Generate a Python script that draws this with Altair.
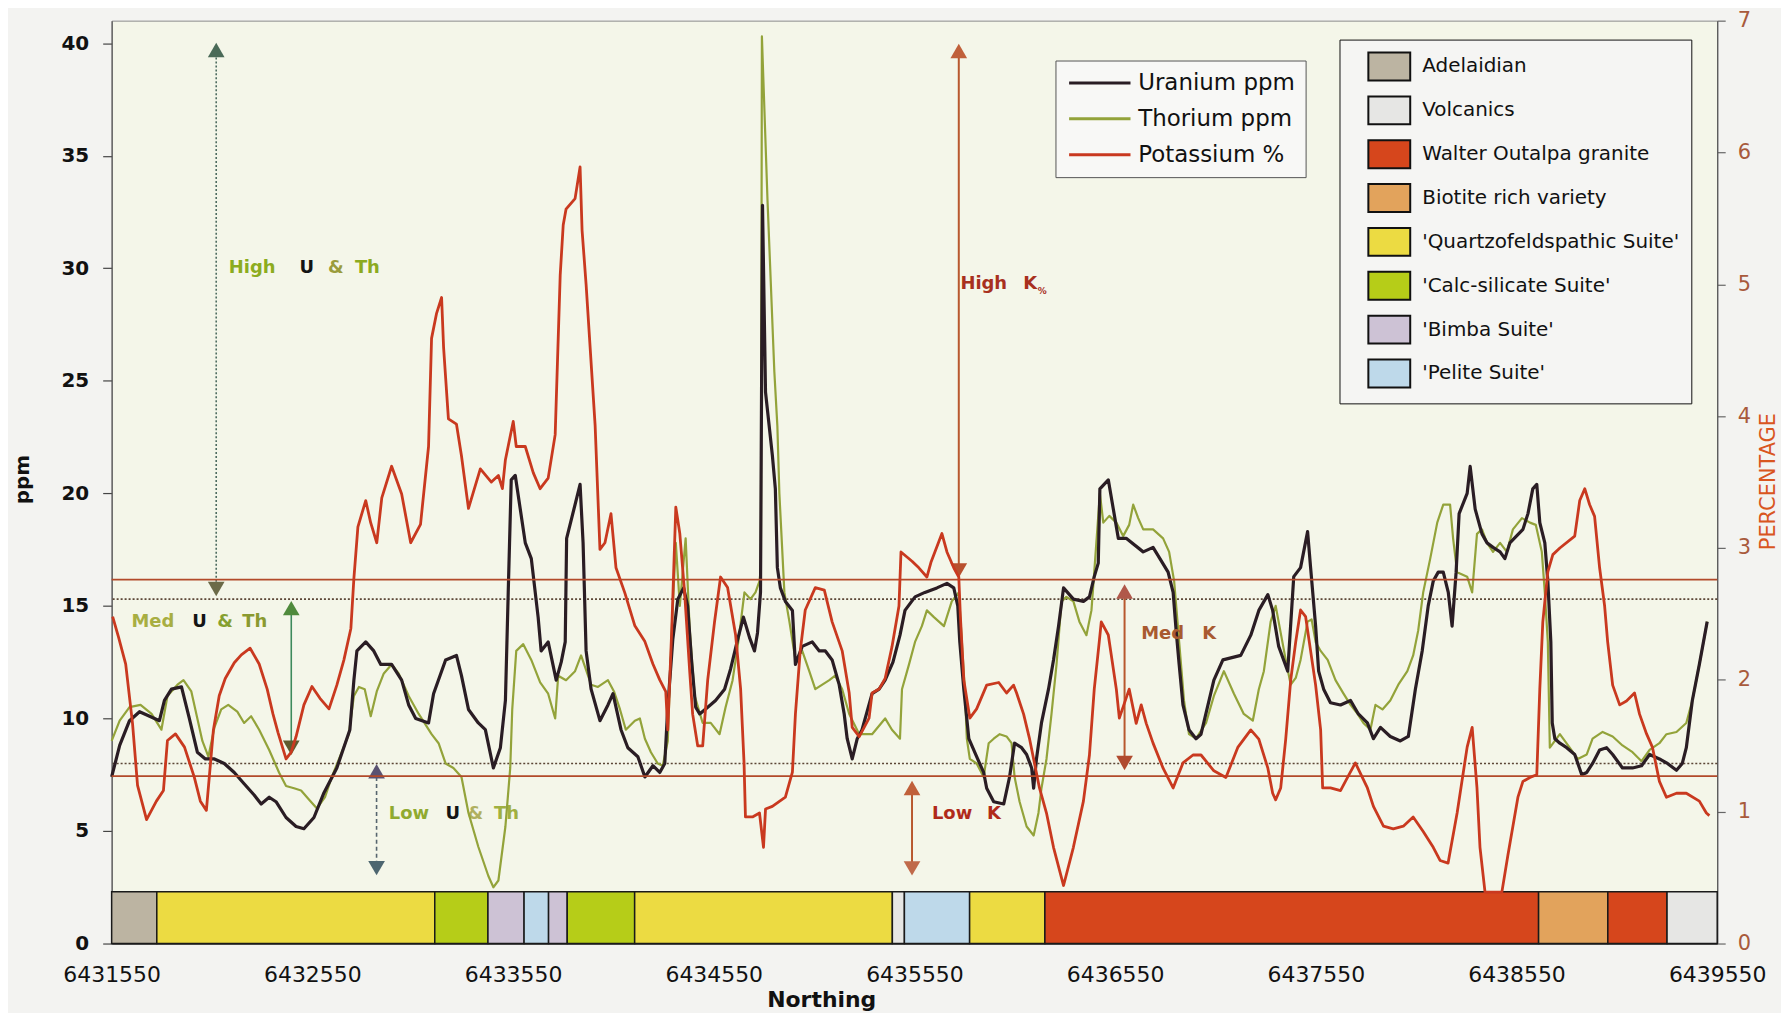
import altair as alt
import pandas as pd

FONT = "DejaVu Sans"

# ---------------- axes ----------------
X_DOMAIN = [6431550, 6439550]
X_TICKS = [6431550, 6432550, 6433550, 6434550, 6435550, 6436550, 6437550, 6438550, 6439550]
PPM_DOMAIN = [0, 41]
PPM_TICKS = [0, 5, 10, 15, 20, 25, 30, 35, 40]
PCT_DOMAIN = [0, 7]
PCT_TICKS = [0, 1, 2, 3, 4, 5, 6, 7]

SERIES = ["Uranium ppm", "Thorium ppm", "Potassium %"]
SERIES_COLORS = ["#2a1d24", "#93a33a", "#c9391f"]

# ---------------- series (northing, value) ----------------
URANIUM = [
    (6431550, 7.4), (6431590, 8.8), (6431639, 9.9), (6431689, 10.3), (6431739, 10.1), (6431788, 9.9),
    (6431813, 10.8), (6431848, 11.3), (6431898, 11.4), (6431937, 10.0), (6431977, 8.5), (6432017, 8.2),
    (6432062, 8.2), (6432111, 8.0), (6432161, 7.6), (6432210, 7.1), (6432260, 6.6), (6432295, 6.2),
    (6432335, 6.5), (6432369, 6.3), (6432419, 5.6), (6432469, 5.2), (6432508, 5.1), (6432558, 5.6),
    (6432608, 6.7), (6432672, 7.8), (6432737, 9.5), (6432757, 11.7), (6432772, 13.0), (6432816, 13.4),
    (6432856, 13.0), (6432891, 12.4), (6432945, 12.4), (6432995, 11.7), (6433030, 10.6), (6433065, 10.0),
    (6433129, 9.8), (6433154, 11.1), (6433214, 12.6), (6433268, 12.8), (6433293, 11.9), (6433328, 10.4),
    (6433377, 9.8), (6433412, 9.5), (6433452, 7.8), (6433487, 8.7), (6433512, 10.8), (6433526, 15.6),
    (6433541, 20.6), (6433561, 20.8), (6433611, 17.8), (6433641, 17.1), (6433675, 14.5), (6433690, 13.0),
    (6433725, 13.4), (6433765, 11.7), (6433790, 12.5), (6433810, 13.4), (6433817, 18.0), (6433859, 19.5),
    (6433884, 20.4), (6433899, 17.8), (6433914, 13.0), (6433939, 11.3), (6433983, 9.9), (6434023, 10.6),
    (6434048, 11.1), (6434088, 9.5), (6434122, 8.7), (6434172, 8.3), (6434207, 7.4), (6434247, 7.9),
    (6434281, 7.6), (6434306, 8.0), (6434321, 10.5), (6434346, 13.5), (6434371, 15.3), (6434400, 15.8),
    (6434420, 15.0), (6434440, 12.5), (6434460, 10.5), (6434480, 10.2), (6434520, 10.5), (6434559, 10.8),
    (6434604, 11.3), (6434634, 12.2), (6434669, 13.5), (6434698, 14.5), (6434728, 13.6), (6434753, 13.0),
    (6434768, 13.8), (6434783, 15.6), (6434793, 32.8), (6434808, 24.5), (6434842, 21.7), (6434857, 20.2),
    (6434867, 16.7), (6434882, 15.8), (6434907, 15.2), (6434942, 14.8), (6434957, 12.4), (6434991, 13.2),
    (6435041, 13.4), (6435076, 13.0), (6435106, 13.0), (6435140, 12.6), (6435175, 11.5), (6435200, 10.2),
    (6435215, 9.1), (6435240, 8.2), (6435265, 9.1), (6435289, 9.5), (6435339, 11.1), (6435374, 11.3),
    (6435404, 11.7), (6435443, 12.5), (6435478, 13.7), (6435503, 14.8), (6435553, 15.4), (6435602, 15.6),
    (6435662, 15.8), (6435712, 16.0), (6435746, 15.8), (6435766, 15.0), (6435776, 13.4), (6435796, 11.3),
    (6435821, 9.1), (6435860, 8.3), (6435895, 7.6), (6435910, 6.9), (6435945, 6.3), (6435995, 6.2),
    (6436024, 7.4), (6436049, 8.9), (6436084, 8.7), (6436109, 8.4), (6436134, 7.8), (6436144, 6.9),
    (6436158, 8.2), (6436183, 9.8), (6436218, 11.3), (6436243, 12.6), (6436268, 14.1), (6436293, 15.8),
    (6436342, 15.3), (6436392, 15.2), (6436422, 15.4), (6436446, 16.3), (6436466, 16.9), (6436474, 20.2),
    (6436516, 20.6), (6436566, 18.0), (6436605, 18.0), (6436690, 17.4), (6436739, 17.6), (6436814, 16.5),
    (6436839, 15.6), (6436854, 13.9), (6436869, 12.4), (6436888, 10.6), (6436918, 9.5), (6436953, 9.1),
    (6436978, 9.3), (6437042, 11.7), (6437087, 12.6), (6437176, 12.8), (6437226, 13.7), (6437266, 14.8),
    (6437311, 15.5), (6437335, 14.8), (6437365, 13.2), (6437410, 12.1), (6437440, 16.3), (6437474, 16.7),
    (6437509, 18.3), (6437524, 16.7), (6437549, 14.1), (6437564, 12.1), (6437589, 11.3), (6437623, 10.7),
    (6437673, 10.6), (6437723, 10.8), (6437762, 10.2), (6437807, 9.8), (6437837, 9.1), (6437872, 9.6),
    (6437921, 9.2), (6437971, 9.0), (6438011, 9.2), (6438046, 11.3), (6438080, 13.0), (6438110, 15.0),
    (6438135, 16.1), (6438160, 16.5), (6438185, 16.5), (6438210, 15.6), (6438229, 14.1), (6438249, 16.5),
    (6438264, 19.1), (6438304, 20.0), (6438319, 21.2), (6438344, 19.3), (6438378, 18.2), (6438403, 17.8),
    (6438433, 17.6), (6438468, 17.4), (6438492, 17.1), (6438517, 17.8), (6438582, 18.4), (6438607, 19.1),
    (6438631, 20.2), (6438651, 20.4), (6438666, 18.7), (6438691, 17.8), (6438706, 16.1), (6438721, 13.4),
    (6438728, 9.8), (6438741, 9.1), (6438766, 8.9), (6438800, 8.7), (6438840, 8.4), (6438875, 7.5),
    (6438900, 7.6), (6438929, 8.0), (6438964, 8.6), (6438999, 8.7), (6439029, 8.4), (6439078, 7.8),
    (6439128, 7.8), (6439173, 7.9), (6439213, 8.4), (6439262, 8.2), (6439302, 8.0), (6439347, 7.7),
    (6439376, 8.0), (6439396, 8.7), (6439426, 10.8), (6439461, 12.4), (6439500, 14.3),
]

THORIUM = [
    (6431550, 9.0), (6431590, 9.9), (6431639, 10.5), (6431694, 10.6), (6431749, 10.2), (6431798, 9.5),
    (6431828, 11.0), (6431878, 11.5), (6431908, 11.7), (6431947, 11.2), (6431977, 10.0), (6432002, 9.0),
    (6432032, 8.3), (6432062, 9.6), (6432096, 10.4), (6432131, 10.6), (6432176, 10.3), (6432210, 9.8),
    (6432245, 10.1), (6432285, 9.5), (6432335, 8.6), (6432384, 7.6), (6432419, 7.0), (6432459, 6.9),
    (6432494, 6.8), (6432533, 6.4), (6432573, 6.0), (6432613, 6.5), (6432647, 7.4), (6432692, 8.4),
    (6432732, 9.3), (6432757, 11.0), (6432782, 11.4), (6432811, 11.3), (6432841, 10.1), (6432871, 11.2),
    (6432906, 12.0), (6432945, 12.4), (6432980, 12.0), (6433030, 11.0), (6433080, 10.2), (6433144, 9.3),
    (6433179, 8.9), (6433214, 8.0), (6433253, 7.8), (6433293, 7.4), (6433328, 5.8), (6433377, 4.3),
    (6433427, 3.0), (6433452, 2.5), (6433477, 2.8), (6433512, 5.2), (6433536, 7.8), (6433546, 10.4),
    (6433566, 13.0), (6433601, 13.3), (6433641, 12.6), (6433685, 11.6), (6433725, 11.1), (6433760, 10.0),
    (6433775, 11.9), (6433814, 11.7), (6433859, 12.1), (6433889, 12.8), (6433939, 11.5), (6433973, 11.4),
    (6434023, 11.7), (6434053, 11.2), (6434083, 10.4), (6434112, 9.5), (6434157, 9.9), (6434182, 10.0),
    (6434207, 9.1), (6434237, 8.5), (6434271, 8.0), (6434296, 7.9), (6434321, 9.0), (6434341, 14.0),
    (6434361, 17.8), (6434381, 15.0), (6434410, 18.0), (6434430, 14.0), (6434455, 11.0), (6434495, 9.8),
    (6434535, 9.8), (6434579, 9.3), (6434609, 10.5), (6434644, 11.7), (6434674, 13.5), (6434703, 15.6),
    (6434733, 15.3), (6434758, 15.6), (6434778, 16.1), (6434785, 16.7), (6434790, 40.3), (6434818, 33.0),
    (6434852, 25.4), (6434867, 23.0), (6434877, 20.0), (6434902, 15.6), (6434927, 14.3), (6434957, 12.6),
    (6434991, 13.0), (6435026, 12.1), (6435056, 11.3), (6435091, 11.5), (6435126, 11.7), (6435155, 11.9),
    (6435190, 11.3), (6435225, 10.2), (6435275, 9.3), (6435339, 9.3), (6435404, 10.0), (6435438, 9.5),
    (6435478, 9.1), (6435488, 11.3), (6435523, 12.4), (6435553, 13.4), (6435587, 14.1), (6435612, 14.8),
    (6435647, 14.5), (6435697, 14.1), (6435736, 15.2), (6435771, 15.6), (6435801, 11.3), (6435811, 9.1),
    (6435826, 8.2), (6435860, 8.0), (6435895, 7.4), (6435920, 8.9), (6435945, 9.1), (6435975, 9.3),
    (6436009, 9.2), (6436034, 8.9), (6436049, 7.4), (6436074, 6.3), (6436109, 5.2), (6436144, 4.8),
    (6436168, 5.8), (6436183, 6.9), (6436208, 8.2), (6436233, 10.2), (6436258, 12.4), (6436283, 15.2),
    (6436307, 15.4), (6436342, 15.2), (6436372, 14.3), (6436407, 13.7), (6436432, 14.8), (6436446, 16.5),
    (6436474, 20.0), (6436491, 18.7), (6436521, 19.0), (6436556, 18.7), (6436590, 18.1), (6436620, 18.6),
    (6436640, 19.5), (6436665, 18.9), (6436690, 18.4), (6436739, 18.4), (6436789, 18.0), (6436819, 17.4),
    (6436844, 16.1), (6436869, 13.4), (6436893, 10.8), (6436918, 9.3), (6436953, 9.1), (6437003, 9.8),
    (6437042, 11.0), (6437092, 12.1), (6437142, 11.1), (6437191, 10.2), (6437236, 9.9), (6437266, 11.3),
    (6437291, 12.1), (6437325, 14.3), (6437350, 15.0), (6437375, 13.8), (6437400, 12.6), (6437425, 11.5),
    (6437450, 11.8), (6437474, 12.6), (6437509, 14.3), (6437529, 14.4), (6437549, 13.4), (6437574, 13.0),
    (6437609, 12.6), (6437648, 11.7), (6437688, 11.1), (6437723, 10.6), (6437758, 10.2), (6437787, 9.8),
    (6437822, 9.5), (6437847, 10.6), (6437882, 10.4), (6437921, 10.8), (6437961, 11.5), (6438006, 12.1),
    (6438035, 12.8), (6438060, 13.9), (6438085, 15.6), (6438120, 17.1), (6438155, 18.7), (6438185, 19.5),
    (6438219, 19.5), (6438234, 18.0), (6438254, 16.5), (6438304, 16.3), (6438329, 15.6), (6438353, 18.2),
    (6438378, 18.4), (6438403, 17.8), (6438433, 17.4), (6438468, 17.8), (6438502, 17.4), (6438532, 18.4),
    (6438577, 18.9), (6438617, 18.7), (6438646, 18.6), (6438676, 17.4), (6438691, 15.6), (6438706, 13.4),
    (6438716, 8.7), (6438766, 9.3), (6438815, 8.7), (6438855, 8.2), (6438900, 8.4), (6438929, 9.1),
    (6438979, 9.4), (6439029, 9.2), (6439078, 8.8), (6439128, 8.5), (6439173, 8.1), (6439213, 8.6),
    (6439262, 8.9), (6439297, 9.3), (6439347, 9.4), (6439396, 9.8), (6439426, 10.8), (6439461, 12.4),
    (6439500, 14.3),
]

POTASSIUM = [
    (6431555, 2.48), (6431585, 2.32), (6431620, 2.12), (6431654, 1.67), (6431679, 1.20), (6431724, 0.94),
    (6431773, 1.08), (6431808, 1.16), (6431828, 1.54), (6431868, 1.59), (6431913, 1.49), (6431962, 1.26),
    (6431992, 1.08), (6432022, 1.01), (6432057, 1.62), (6432086, 1.88), (6432116, 2.01), (6432161, 2.13),
    (6432196, 2.19), (6432240, 2.24), (6432285, 2.12), (6432325, 1.93), (6432354, 1.74), (6432379, 1.60),
    (6432419, 1.40), (6432444, 1.45), (6432469, 1.57), (6432508, 1.81), (6432548, 1.95), (6432588, 1.86),
    (6432633, 1.78), (6432672, 1.96), (6432707, 2.15), (6432742, 2.39), (6432757, 2.77), (6432777, 3.16),
    (6432816, 3.36), (6432841, 3.19), (6432871, 3.04), (6432896, 3.38), (6432945, 3.62), (6432995, 3.41),
    (6433040, 3.04), (6433089, 3.18), (6433129, 3.77), (6433144, 4.59), (6433169, 4.78), (6433194, 4.90),
    (6433204, 4.52), (6433228, 3.98), (6433268, 3.94), (6433293, 3.70), (6433328, 3.30), (6433387, 3.60),
    (6433442, 3.50), (6433477, 3.55), (6433497, 3.45), (6433512, 3.67), (6433551, 3.96), (6433566, 3.77),
    (6433611, 3.77), (6433651, 3.57), (6433685, 3.45), (6433725, 3.53), (6433760, 3.86), (6433785, 5.07),
    (6433800, 5.45), (6433814, 5.57), (6433859, 5.65), (6433884, 5.89), (6433894, 5.41), (6433914, 5.00),
    (6433959, 3.93), (6433983, 2.99), (6434008, 3.04), (6434038, 3.26), (6434063, 2.85), (6434107, 2.66),
    (6434157, 2.41), (6434207, 2.29), (6434247, 2.12), (6434281, 2.00), (6434311, 1.91), (6434321, 1.62),
    (6434341, 2.39), (6434361, 3.31), (6434381, 3.11), (6434405, 2.66), (6434430, 2.07), (6434445, 1.74),
    (6434470, 1.50), (6434495, 1.50), (6434520, 2.00), (6434554, 2.44), (6434584, 2.78), (6434619, 2.70),
    (6434659, 2.34), (6434684, 1.93), (6434701, 1.37), (6434708, 0.96), (6434743, 0.96), (6434778, 0.99),
    (6434798, 0.73), (6434808, 1.02), (6434842, 1.04), (6434907, 1.11), (6434942, 1.30), (6434957, 1.74),
    (6434981, 2.22), (6435006, 2.53), (6435056, 2.70), (6435101, 2.68), (6435140, 2.44), (6435190, 2.22),
    (6435225, 1.90), (6435240, 1.64), (6435275, 1.57), (6435324, 1.71), (6435339, 1.90), (6435374, 1.93),
    (6435404, 2.01), (6435438, 2.25), (6435473, 2.56), (6435483, 2.97), (6435538, 2.90), (6435572, 2.85),
    (6435612, 2.78), (6435632, 2.89), (6435687, 3.11), (6435712, 2.97), (6435746, 2.85), (6435771, 2.78),
    (6435779, 2.48), (6435796, 2.00), (6435826, 1.71), (6435860, 1.78), (6435910, 1.96), (6435970, 1.98),
    (6436009, 1.90), (6436044, 1.96), (6436059, 1.90), (6436094, 1.74), (6436124, 1.55), (6436173, 1.18),
    (6436208, 0.99), (6436243, 0.73), (6436293, 0.44), (6436342, 0.73), (6436392, 1.08), (6436422, 1.43),
    (6436446, 1.93), (6436471, 2.29), (6436481, 2.44), (6436516, 2.34), (6436556, 1.93), (6436571, 1.71),
    (6436620, 1.93), (6436655, 1.67), (6436680, 1.81), (6436705, 1.67), (6436739, 1.52), (6436789, 1.33),
    (6436839, 1.18), (6436888, 1.37), (6436938, 1.43), (6436978, 1.43), (6437042, 1.31), (6437102, 1.26),
    (6437162, 1.49), (6437226, 1.62), (6437266, 1.55), (6437311, 1.33), (6437335, 1.14), (6437350, 1.09),
    (6437375, 1.18), (6437400, 1.55), (6437425, 2.00), (6437450, 2.29), (6437474, 2.53), (6437499, 2.48),
    (6437524, 2.22), (6437549, 1.96), (6437574, 1.62), (6437584, 1.18), (6437623, 1.18), (6437673, 1.16),
    (6437708, 1.26), (6437747, 1.37), (6437807, 1.18), (6437837, 1.04), (6437887, 0.89), (6437936, 0.87),
    (6437986, 0.89), (6438035, 0.96), (6438085, 0.85), (6438135, 0.73), (6438169, 0.63), (6438209, 0.61),
    (6438254, 0.99), (6438304, 1.49), (6438329, 1.64), (6438353, 1.18), (6438368, 0.73), (6438393, 0.39),
    (6438477, 0.39), (6438507, 0.67), (6438532, 0.89), (6438557, 1.11), (6438582, 1.23), (6438617, 1.26),
    (6438651, 1.28), (6438666, 1.93), (6438681, 2.44), (6438706, 2.82), (6438731, 2.95), (6438766, 3.00),
    (6438840, 3.09), (6438865, 3.36), (6438890, 3.45), (6438914, 3.33), (6438939, 3.24), (6438964, 2.85),
    (6438989, 2.56), (6439004, 2.29), (6439029, 1.96), (6439064, 1.81), (6439098, 1.84), (6439138, 1.90),
    (6439163, 1.74), (6439198, 1.59), (6439227, 1.49), (6439262, 1.23), (6439297, 1.11), (6439347, 1.14),
    (6439396, 1.14), (6439461, 1.08), (6439496, 0.99), (6439511, 0.97),
]

# ---------------- classification limits ----------------
UTH_LIMITS_PPM = [15.3, 8.0]
K_LIMITS_PCT = [2.76, 1.27]

# ---------------- lithology strip ----------------
LITH_UNITS = ["Adelaidian", "Volcanics", "Walter Outalpa granite", "Biotite rich variety",
              "'Quartzofeldspathic Suite'", "'Calc-silicate Suite'", "'Bimba Suite'", "'Pelite Suite'"]
LITH_COLORS = ["#bcb4a2", "#e6e6e4", "#d6461c", "#e2a35c", "#ecdb42", "#b6cd18", "#cdc2d5", "#bed9ea"]
LITH_START = [6431550, 6431775, 6433160, 6433425, 6433605, 6433727, 6433820, 6434156, 6435440,
              6435500, 6435825, 6436200, 6438660, 6439005, 6439300]
LITH_END = [6431775, 6433160, 6433425, 6433605, 6433727, 6433820, 6434156, 6435440, 6435500,
            6435825, 6436200, 6438660, 6439005, 6439300, 6439550]
LITH_NAME = ["Adelaidian", "'Quartzofeldspathic Suite'", "'Calc-silicate Suite'", "'Bimba Suite'",
             "'Pelite Suite'", "'Bimba Suite'", "'Calc-silicate Suite'", "'Quartzofeldspathic Suite'",
             "Volcanics", "'Pelite Suite'", "'Quartzofeldspathic Suite'", "Walter Outalpa granite",
             "Biotite rich variety", "Walter Outalpa granite", "Volcanics"]
LITH_TOP_PPM = 2.3

# ---------------- class arrows & labels ----------------
UTH_ARROW_N = [6432071, 6432445, 6432870]
UTH_ARROW_LO = [15.9, 8.9, 3.5]
UTH_ARROW_HI = [39.5, 14.8, 7.5]
UTH_ARROW_STYLE = ["dotted", "solid", "dashed"]
UTH_ARROW_COLOR = ["#4d6c60", "#3d8a5c", "#56656e"]
UTH_TRI_N = [6432071, 6432071, 6432445, 6432445, 6432870, 6432870]
UTH_TRI_PPM = [39.7, 15.75, 14.9, 8.7, 7.65, 3.35]
UTH_TRI_SHAPE = ["triangle-up", "triangle-down"] * 3
UTH_TRI_COLOR = ["#4a6a58", "#6b6a48", "#4f8a3c", "#5e5a2e", "#5a5272", "#4d6670"]

K_ARROW_N = [6435771, 6436597, 6435538]
K_ARROW_LO = [2.85, 1.40, 0.58]
K_ARROW_HI = [6.74, 2.64, 1.16]
K_TRI_N = [6435771, 6435771, 6436597, 6436597, 6435538, 6435538]
K_TRI_PCT = [6.77, 2.83, 2.67, 1.37, 1.18, 0.57]
K_TRI_SHAPE = ["triangle-up", "triangle-down"] * 3
K_TRI_COLOR = ["#c0603a", "#b8502e", "#b0584a", "#b04a2e", "#c0603a", "#c06a4a"]

UTH_LABEL_WORD = ["High", "U", "&", "Th", "Med", "U", "&", "Th", "Low", "U", "&", "Th"]
UTH_LABEL_N = [6432134, 6432486, 6432628, 6432762, 6431649, 6431952, 6432076, 6432201,
               6432931, 6433214, 6433323, 6433455]
UTH_LABEL_PPM = [30.0, 30.0, 30.0, 30.0, 14.3, 14.3, 14.3, 14.3, 5.75, 5.75, 5.75, 5.75]
UTH_LABEL_COLOR = ["#8cac1e", "#141414", "#9a9c3c", "#8caa20", "#a8ae42", "#141414", "#86a030",
                   "#8a9a30", "#90aa30", "#141414", "#b0b060", "#a0b040"]

K_LABEL_WORD = ["High", "K", "%", "Med", "K", "Low", "K"]
K_LABEL_N = [6435779, 6436092, 6436165, 6436680, 6436984, 6435637, 6435912]
K_LABEL_PCT = [5.0, 5.0, 4.95, 2.35, 2.35, 0.98, 0.98]
K_LABEL_COLOR = ["#a8301e", "#a8301e", "#a8301e", "#a85a30", "#a85a30", "#b02a1a", "#b02a1a"]
K_LABEL_SIZE = [18, 18, 9, 18, 18, 18, 18]

# ---------------- data frames ----------------
uth_df = pd.DataFrame(
    [(n, v, "Uranium ppm") for n, v in URANIUM] + [(n, v, "Thorium ppm") for n, v in THORIUM],
    columns=["northing", "value", "series"])
k_df = pd.DataFrame([(n, v, "Potassium %") for n, v in POTASSIUM], columns=["northing", "value", "series"])
lith_df = pd.DataFrame({"start": LITH_START, "end": LITH_END, "unit": LITH_NAME,
                        "bottom": [0.0] * len(LITH_START), "top": [LITH_TOP_PPM] * len(LITH_START)})
uth_lim_df = pd.DataFrame({"ppm": UTH_LIMITS_PPM})
k_lim_df = pd.DataFrame({"pct": K_LIMITS_PCT})
uth_arrow_df = pd.DataFrame({"northing": UTH_ARROW_N, "lo": UTH_ARROW_LO, "hi": UTH_ARROW_HI,
                             "style": UTH_ARROW_STYLE, "color": UTH_ARROW_COLOR})
uth_tri_df = pd.DataFrame({"northing": UTH_TRI_N, "ppm": UTH_TRI_PPM, "shape": UTH_TRI_SHAPE,
                           "color": UTH_TRI_COLOR})
k_arrow_df = pd.DataFrame({"northing": K_ARROW_N, "lo": K_ARROW_LO, "hi": K_ARROW_HI})
k_tri_df = pd.DataFrame({"northing": K_TRI_N, "pct": K_TRI_PCT, "shape": K_TRI_SHAPE, "color": K_TRI_COLOR})
uth_label_df = pd.DataFrame({"northing": UTH_LABEL_N, "ppm": UTH_LABEL_PPM, "word": UTH_LABEL_WORD,
                             "color": UTH_LABEL_COLOR})
k_label_df = pd.DataFrame({"northing": K_LABEL_N, "pct": K_LABEL_PCT, "word": K_LABEL_WORD,
                           "color": K_LABEL_COLOR, "size": K_LABEL_SIZE})

# ---------------- scales, axes, legends ----------------
x_scale = alt.Scale(domain=X_DOMAIN, nice=False, zero=False)
x_axis = alt.Axis(values=X_TICKS, format="d", title="Northing", grid=False, ticks=False, tickSize=0,
                  domain=True, domainColor="#333333", domainWidth=1.5,
                  labelFont=FONT, labelFontSize=22, labelColor="#111111", labelPadding=21,
                  labelFlush=False, labelOverlap=False,
                  titleFont=FONT, titleFontSize=22, titleFontWeight="bold", titleColor="#111111",
                  titleX=712, titleY=56, titleBaseline="middle")
ppm_scale = alt.Scale(domain=PPM_DOMAIN, nice=False, zero=True)
ppm_axis = alt.Axis(values=PPM_TICKS, orient="left", title="ppm", grid=False,
                    tickSize=9, tickColor="#444444", tickWidth=1.2,
                    domainColor="#555555", domainWidth=1.2,
                    labelFont=FONT, labelFontSize=20, labelFontWeight="bold", labelColor="#111111",
                    labelPadding=14,
                    titleFont=FONT, titleFontSize=20, titleFontWeight="bold", titleColor="#111111",
                    titleAngle=270, titleX=-89, titleY=460, titleBaseline="middle")
pct_scale = alt.Scale(domain=PCT_DOMAIN, nice=False, zero=True)
pct_axis = alt.Axis(values=PCT_TICKS, orient="right", title="PERCENTAGE", grid=False,
                    tickSize=8, tickColor="#666666", tickWidth=1.2,
                    domainColor="#555555", domainWidth=1.2,
                    labelFont=FONT, labelFontSize=21, labelColor="#a85a3c", labelPadding=12,
                    titleFont=FONT, titleFontSize=21, titleFontWeight="normal", titleColor="#d9561f",
                    titleAngle=270, titleX=51, titleY=462, titleBaseline="middle")

line_legend = alt.Legend(title=None, orient="none", legendX=947, legendY=40,
                         symbolType="M-0.8,0H4.8", symbolSize=484, symbolStrokeWidth=3,
                         symbolFillColor="transparent", labelOffset=48,
                         labelFont=FONT, labelFontSize=23, labelColor="#111111", labelLimit=400,
                         padding=10, rowPadding=11, strokeColor="#555555", fillColor="#f8f8f6")
lith_legend = alt.Legend(title=None, orient="none", legendX=1232, legendY=19,
                         symbolType="M0.14,-1H3.14V1H0.14Z", symbolSize=784,
                         symbolStrokeColor="#111111", symbolStrokeWidth=2, labelOffset=41,
                         labelFont=FONT, labelFontSize=20, labelColor="#111111", labelLimit=420,
                         padding=12, rowPadding=8, strokeColor="#111111", fillColor="#f5f5f3")

stroke_enc = alt.Stroke("series:N", scale=alt.Scale(domain=SERIES, range=SERIES_COLORS), legend=line_legend)


def X(field):
    return alt.X(field, type="quantitative", scale=x_scale, axis=x_axis)


def YA(field):
    return alt.Y(field, type="quantitative", scale=ppm_scale, axis=ppm_axis)


def YB(field):
    return alt.Y(field, type="quantitative", scale=pct_scale, axis=pct_axis)


# ---------------- group A : ppm (left axis) ----------------
lith = alt.Chart(lith_df).mark_rect(stroke="#1a1a1a", strokeWidth=1.5).encode(
    x=X("start"), x2="end", y=YA("bottom"), y2="top",
    fill=alt.Fill("unit:N", scale=alt.Scale(domain=LITH_UNITS, range=LITH_COLORS), legend=lith_legend))

uth_lim = alt.Chart(uth_lim_df).mark_rule(color="#5b4636", strokeWidth=1.6, strokeDash=[2, 2]).encode(
    y=YA("ppm"))

uth_arrows = []
for style, dash in [("dotted", [2, 2]), ("solid", [1, 0]), ("dashed", [4, 3])]:
    uth_arrows.append(
        alt.Chart(uth_arrow_df).transform_filter(alt.datum.style == style)
        .mark_rule(strokeWidth=1.6, strokeDash=dash)
        .encode(x=X("northing"), y=YA("lo"), y2="hi", color=alt.Color("color:N", scale=None)))

uth_tri = alt.Chart(uth_tri_df).mark_point(filled=True, size=280, opacity=1).encode(
    x=X("northing"), y=YA("ppm"),
    shape=alt.Shape("shape:N", scale=None), color=alt.Color("color:N", scale=None))

uth_labels = alt.Chart(uth_label_df).mark_text(
    align="left", baseline="middle", font=FONT, fontSize=18, fontWeight="bold").encode(
    x=X("northing"), y=YA("ppm"), text="word:N", color=alt.Color("color:N", scale=None))

th_line = alt.Chart(uth_df).transform_filter(alt.datum.series == "Thorium ppm").mark_line(
    strokeWidth=2.2, strokeJoin="round").encode(x=X("northing"), y=YA("value"), stroke=stroke_enc)

u_line = alt.Chart(uth_df).transform_filter(alt.datum.series == "Uranium ppm").mark_line(
    strokeWidth=3.2, strokeJoin="round").encode(x=X("northing"), y=YA("value"), stroke=stroke_enc)

group_a = alt.layer(lith, uth_lim, *uth_arrows, uth_tri, uth_labels, th_line, u_line)

# ---------------- group B : % (right axis) ----------------
k_lim = alt.Chart(k_lim_df).mark_rule(color="#b24a2a", strokeWidth=1.6).encode(y=YB("pct"))

k_arrows = alt.Chart(k_arrow_df).mark_rule(color="#b8582e", strokeWidth=2).encode(
    x=X("northing"), y=YB("lo"), y2="hi")

k_tri = alt.Chart(k_tri_df).mark_point(filled=True, size=280, opacity=1).encode(
    x=X("northing"), y=YB("pct"),
    shape=alt.Shape("shape:N", scale=None), color=alt.Color("color:N", scale=None))

k_labels = alt.Chart(k_label_df).mark_text(
    align="left", baseline="middle", font=FONT, fontWeight="bold").encode(
    x=X("northing"), y=YB("pct"), text="word:N", color=alt.Color("color:N", scale=None),
    size=alt.Size("size:Q", scale=None))

k_line = alt.Chart(k_df).mark_line(strokeWidth=2.8, strokeJoin="round").encode(
    x=X("northing"), y=YB("value"), stroke=stroke_enc)

group_b = alt.layer(k_lim, k_arrows, k_tri, k_labels, k_line)

chart = (
    alt.layer(group_a, group_b)
    .resolve_scale(y="independent")
    .properties(width=1611, height=926,
                padding={"left": 104, "top": 11, "right": 64, "bottom": 68},
                autosize=alt.AutoSizeParams(type="none"))
    .configure(background="#f3f3f1", font=FONT)
    .configure_view(fill="#f4f6e9", stroke="#8c8c8c", strokeWidth=1)
)

chart.save("out.html", embed_options={"renderer": "svg", "actions": False})
